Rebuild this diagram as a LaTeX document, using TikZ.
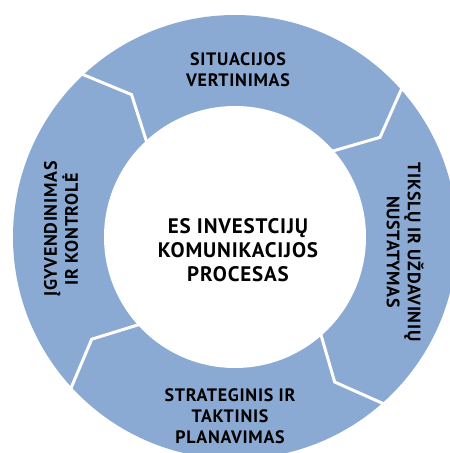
\documentclass[tikz,border=0pt]{standalone}
\usepackage{fontspec}
\setmainfont{PT Sans}[LetterSpace=4]
\definecolor{ringblue}{RGB}{138,170,211}
\begin{document}
\begin{tikzpicture}[x=1pt,y=-1pt,
  lbl/.style={font=\bfseries\fontsize{18}{21}\selectfont, align=center, text=black, inner sep=0pt},
  hub/.style={font=\bfseries\fontsize{21}{24}\selectfont, align=center, text=black, inner sep=0pt},
  gap/.style={white, line width=3pt, line join=miter, line cap=butt}]
\useasboundingbox (0,0) rectangle (450,453);
\clip (0,0) rectangle (450,453);

% ring of the cycle
\coordinate (c) at (235,237);
\fill[ringblue] (c) circle[radius=222];
\fill[white] (c) circle[radius=131];

% chevron-shaped gaps between the four stages (clockwise flow)
\begin{scope}[shift={(c)}]
  \foreach \a in {133.5,42,-48,-137}{
    \draw[gap] (\a:226pt) -- (\a-7.5:176pt) -- (\a:127pt);
  }
\end{scope}

% stage labels
\node[lbl] (sit) at (238,70) {SITUACIJOS\\VERTINIMAS};
\node[lbl, rotate=-90] (tik) at (405,252) {TIKSLŲ IR UŽDAVINIŲ\\NUSTATYMAS};
\node[lbl] (str) at (230,416) {STRATEGINIS IR\\TAKTINIS\\PLANAVIMAS};
\node[lbl, rotate=90] (igy) at (61,229) {ĮGYVENDINIMAS\\IR KONTROLĖ};

% hub label
\node[hub] (es) at (238,250) {ES INVESTCIJŲ\\KOMUNIKACIJOS\\PROCESAS};
\end{tikzpicture}
\end{document}
